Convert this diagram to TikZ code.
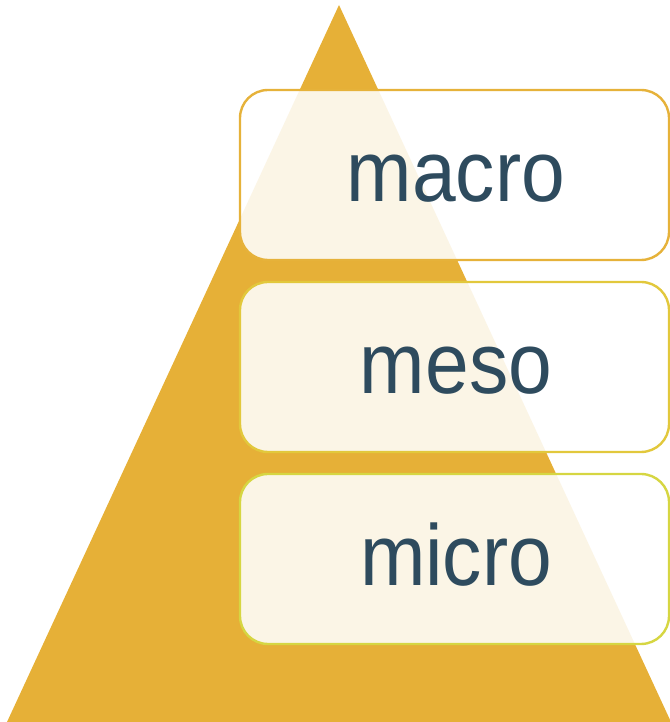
\documentclass[tikz,border=0pt]{standalone}
\usepackage{fontspec}
\setmainfont{Liberation Sans}
\definecolor{pyrgold}{HTML}{E6B037}
\definecolor{lvlgold}{HTML}{E6B23A}
\definecolor{lvlyellow}{HTML}{E2C83C}
\definecolor{lvllime}{HTML}{D6D642}
\definecolor{lvltext}{HTML}{2E4B5E}
\begin{document}
\begin{tikzpicture}[x=1pt,y=1pt,
  levelbox/.style={draw=#1, line width=2.4pt, rounded corners=28pt,
    fill=white, fill opacity=0.88, draw opacity=1},
  leveltext/.style={text=lvltext, anchor=base, xscale=0.935, yscale=1.03,
    transform shape, font=\fontsize{84}{100}\selectfont}]
  \useasboundingbox (0,0) rectangle (669,722);
  % pyramid
  \fill[pyrgold] (7,0) -- (671,0) -- (339,717) -- cycle;
  % level boxes
  \draw[levelbox=lvlgold]   (240,462) rectangle (669,632);
  \draw[levelbox=lvlyellow] (240,270) rectangle (669,440);
  \draw[levelbox=lvllime]   (240,78)  rectangle (669,248);
  % labels
  \node[leveltext] (macro) at (456,520) {macro};
  \node[leveltext] (meso)  at (456,328) {meso};
  \node[leveltext] (micro) at (456,136) {micro};
\end{tikzpicture}
\end{document}
